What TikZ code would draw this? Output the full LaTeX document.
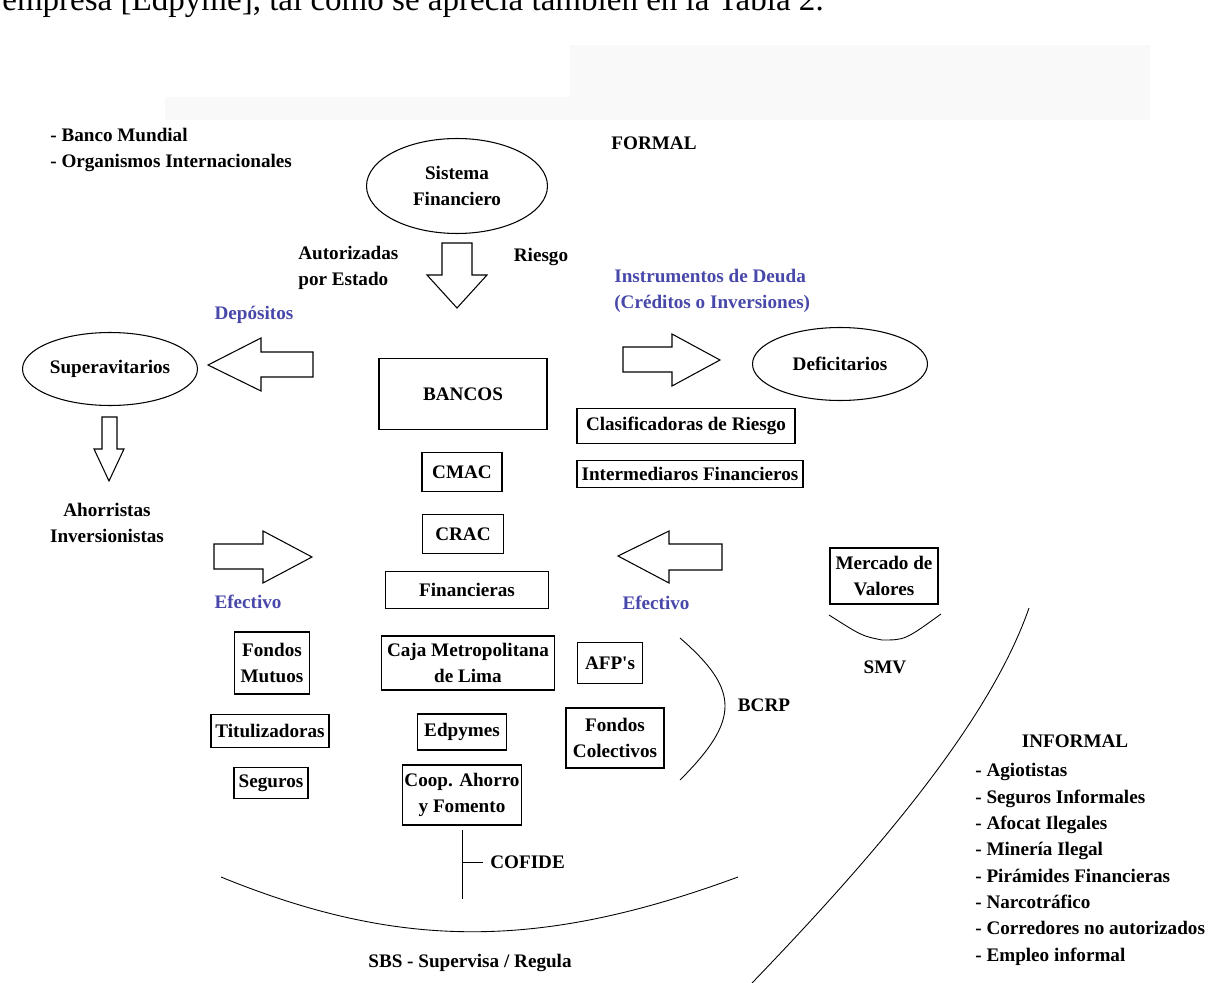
\documentclass[tikz,border=0pt]{standalone}
\usepackage{fontspec}
\setmainfont{Liberation Serif}
\usepackage{tikz}
\usetikzlibrary{shapes.geometric}
\definecolor{azul}{RGB}{72,72,170}

\begin{document}
\begin{tikzpicture}[x=0.02cm,y=-0.02cm,
  every node/.style={font=\fontsize{10.9}{15}\selectfont\bfseries,inner sep=0pt},
  caja/.style={draw,line width=0.8pt,align=center},
  elipse/.style={draw,ellipse,line width=0.6pt,align=center},
  flujo/.style={text=azul},
  flecha/.style={draw,line width=0.6pt},
  curva/.style={draw,line width=0.5pt}]
\useasboundingbox (0,0) rectangle (1210,983);
\clip (0,0) rectangle (1210,983);
\fill[gray!5] (570,45) rectangle (1150,120);
\fill[gray!5] (165,97) rectangle (570,120);

\node[anchor=base west,font=\fontsize{18.8}{22}\selectfont] (intro) at (2,11) {empresa [Edpyme], tal como se aprecia también en la Tabla 2.};

\node[anchor=west,align=left] (intl) at (50,150) {- Banco Mundial\\- Organismos Internacionales};
\node (formal) at (654,143) {FORMAL};
\node[elipse,minimum width=3.62cm,minimum height=1.9cm] (sf) at (457,186) {Sistema\\Financiero};
\node[anchor=west,align=left] (aut) at (298,268) {Autorizadas\\por Estado};
\node (riesgo) at (541,257) {Riesgo};
\node[flujo] (dep) at (254,315) {Depósitos};
\node[flujo,anchor=west,align=left] (instr) at (614,291) {Instrumentos de Deuda\\(Créditos o Inversiones)};

\node[elipse,minimum width=3.5cm,minimum height=1.46cm] (sup) at (110,369) {Superavitarios};
\node[elipse,minimum width=3.5cm,minimum height=1.46cm] (def) at (840,364) {Deficitarios};
\node[align=center] (ahorr) at (107,523) {Ahorristas\\Inversionistas};

\node[caja,minimum width=3.36cm,minimum height=1.42cm] (bancos) at (463,394) {BANCOS};
\node[caja,minimum width=1.6cm,minimum height=0.78cm] (cmac) at (462,472) {CMAC};
\node[caja,minimum width=1.62cm,minimum height=0.78cm] (crac) at (463,534) {CRAC};
\node[caja,minimum width=3.26cm,minimum height=0.74cm] (fin) at (467,590) {Financieras};
\node[caja,minimum width=3.46cm,minimum height=1.08cm] (cml) at (468,663) {Caja Metropolitana\\de Lima};
\node[caja,minimum width=1.78cm,minimum height=0.72cm] (edp) at (462,732) {Edpymes};
\node[caja,minimum width=2.38cm,minimum height=1.2cm] (coop) at (462,795) {Coop. Ahorro\\y Fomento};

\node[caja,minimum width=4.36cm,minimum height=0.7cm] (clas) at (686,426) {Clasificadoras de Riesgo};
\node[caja,minimum width=4.52cm,minimum height=0.54cm] (inter) at (690,474) {Intermediaros Financieros};

\node[caja,minimum width=1.5cm,minimum height=1.24cm] (fm) at (272,663) {Fondos\\Mutuos};
\node[caja,minimum width=2.36cm,minimum height=0.66cm] (tit) at (270,731) {Titulizadoras};
\node[caja,minimum width=1.48cm,minimum height=0.62cm] (seg) at (271,783) {Seguros};
\node[caja,minimum width=1.3cm,minimum height=0.82cm] (afp) at (610,663) {AFP\textquotesingle s};
\node[caja,minimum width=1.96cm,minimum height=1.2cm] (fc) at (615,738) {Fondos\\Colectivos};
\node[caja,minimum width=2.16cm,minimum height=1.12cm] (mv) at (884,576) {Mercado de\\Valores};

\node[flujo] (efl) at (248,602) {Efectivo};
\node[flujo] (efr) at (656,603) {Efectivo};
\node (bcrp) at (764,705) {BCRP};
\node (smv) at (885,667) {SMV};
\node[anchor=west] (cofide) at (490,862) {COFIDE};
\node (sbs) at (470,963) {SBS - Supervisa / Regula};

\node (informal) at (1075,741) {INFORMAL};
\node[anchor=north west,align=left] (lista) at (975,763) {- Agiotistas\\- Seguros Informales\\- Afocat Ilegales\\- Minería Ilegal\\- Pirámides Financieras\\- Narcotráfico\\- Corredores no autorizados\\- Empleo informal};

% flechas huecas
\draw[flecha] (442,243) -- (472,243) -- (472,275) -- (487,275) -- (457,308) -- (427,275) -- (442,275) -- cycle;
\draw[flecha] (313,352) -- (261,352) -- (261,338) -- (208,365) -- (261,391) -- (261,377) -- (313,377) -- cycle;
\draw[flecha] (623,347) -- (672,347) -- (672,334) -- (720,360) -- (672,386) -- (672,372) -- (623,372) -- cycle;
\draw[flecha] (102,417) -- (117,417) -- (117,449) -- (124,449) -- (109,481) -- (94,449) -- (102,449) -- cycle;
\draw[flecha] (214,544) -- (263,544) -- (263,531) -- (312,557) -- (263,583) -- (263,569) -- (214,569) -- cycle;
\draw[flecha] (722,544) -- (669,544) -- (669,531) -- (618,556) -- (669,583) -- (669,570) -- (722,570) -- cycle;

% llaves
\coordinate (cof) at (462,830);
\draw[curva] (cof) -- ++(0,69);
\draw[curva] (cofide.west) ++(-7,0) -- (cofide.west -| cof);
\draw[curva] (680,638) .. controls (740,690) and (740,720) .. (680,780);
\draw[curva] (829,615) .. controls (862,636) .. (882,640) .. controls (905,640) .. (941,614);
\draw[curva] (221,877) .. controls (400,950) and (540,950) .. (738,877);
\draw[curva] (1029,608) .. controls (990,720) and (880,850) .. (752,983);
\end{tikzpicture}
\end{document}
